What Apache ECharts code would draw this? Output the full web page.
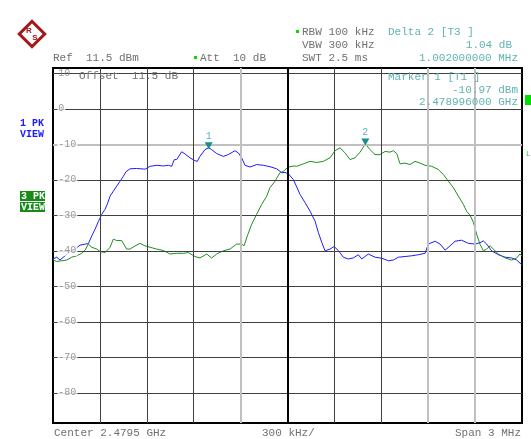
<!DOCTYPE html>
<html><head><meta charset="utf-8">
<script src="https://cdn.jsdelivr.net/npm/echarts@6/dist/echarts.min.js"></script>
<style>html,body{margin:0;padding:0;background:#fff}#c{width:531px;height:439px}</style>
</head><body><div id="c"></div>
<script>
// Frequency offsets in kHz from start (2.4780 GHz), span 3 MHz
const blueFreq = [0,24,45,77,109,141,173,205,226,248,269,290,312,333,347,365,386,407,429,450,467,493,535,589,621,663,706,738,759,776,791,823,844,876,908,923,940,972,996,1015,1047,1089,1121,1164,1185,1207,1228,1260,1303,1345,1388,1431,1463,1484,1505,1516,1537,1559,1580,1612,1644,1676,1697,1719,1740,1772,1798,1825,1857,1889,1921,1953,1975,2017,2060,2103,2145,2177,2209,2252,2295,2337,2380,2401,2444,2476,2508,2540,2572,2614,2657,2700,2732,2753,2774,2806,2849,2892,2934,2966,3000];
const blueLevel = [-42.3,-41.8,-42.6,-41.4,-40.2,-39.5,-38.4,-38.1,-38.0,-35.8,-33.9,-31.8,-29.7,-28.3,-26.9,-24.6,-23.2,-21.8,-20.4,-19.0,-17.7,-16.9,-16.8,-17.0,-16.2,-15.9,-16.1,-15.9,-16.2,-14.3,-14.3,-12.1,-12.7,-13.8,-14.6,-14.8,-13.4,-11.5,-10.97,-11.5,-12.6,-13.4,-12.9,-11.8,-12.4,-13.8,-15.9,-16.4,-15.7,-15.9,-16.3,-16.9,-18.0,-17.9,-18.3,-18.7,-19.9,-22.0,-24.1,-26.4,-28.8,-31.6,-34.8,-37.6,-40.0,-39.5,-38.8,-39.9,-41.8,-42.3,-42.0,-41.1,-42.3,-40.9,-41.8,-42.1,-42.8,-42.6,-41.8,-41.6,-41.4,-41.1,-40.7,-38.1,-37.3,-38.1,-39.8,-38.6,-37.3,-37.0,-37.9,-38.1,-37.7,-37.2,-38.1,-40.0,-41.1,-41.8,-42.0,-42.6,-44.0];
const greenFreq = [0,24,56,88,120,152,184,205,226,248,280,301,333,365,386,407,439,471,493,525,557,589,621,663,706,748,791,834,866,908,940,983,1015,1047,1089,1132,1175,1207,1222,1243,1271,1303,1335,1367,1388,1420,1452,1473,1505,1542,1559,1601,1644,1687,1729,1772,1804,1836,1868,1900,1932,1964,1998,2028,2060,2092,2124,2156,2177,2199,2220,2252,2284,2316,2348,2380,2423,2465,2497,2529,2561,2593,2625,2646,2668,2689,2710,2731,2753,2774,2796,2817,2849,2892,2934,2966,2987,3000];
const greenLevel = [-42.6,-43.0,-42.8,-42.6,-41.8,-41.4,-40.7,-39.8,-38.1,-39.0,-39.5,-40.2,-40.5,-39.0,-36.7,-37.1,-37.1,-39.5,-39.5,-38.6,-37.9,-38.6,-39.0,-39.5,-39.9,-40.9,-40.7,-40.7,-40.5,-41.6,-42.0,-40.9,-42.0,-40.9,-40.0,-39.5,-38.1,-38.1,-38.6,-35.8,-32.5,-29.7,-26.9,-24.6,-22.2,-20.4,-18.0,-17.6,-16.4,-16.1,-16.2,-15.5,-14.8,-15.1,-14.8,-13.8,-11.8,-11.0,-12.4,-14.3,-13.8,-12.2,-9.93,-11.5,-12.9,-12.9,-12.0,-12.2,-11.8,-12.6,-15.5,-15.3,-15.7,-14.8,-15.3,-15.9,-16.2,-17.1,-18.5,-20.4,-22.2,-24.6,-26.9,-28.9,-30.0,-32.0,-35.3,-38.1,-40.0,-39.5,-38.6,-39.5,-40.9,-42.0,-42.6,-42.0,-40.9,-41.5];
const gridLevels = [10,0,-10,-20,-30,-40,-50,-60,-70,-80];
const grayLevels = [-10];
const freqLines = [300,600,900,1200,1500,1800,2100,2400,2700];
const grayFreqLines = [1200,2400,2700];
const centerLine = [1500];
const marker1 = {freq: 996, level: -10.97};
const marker2 = {freq: 1998, level: -9.93};
const refLevel = 11.5, bottomLevel = -88.5;

const mono = '"Liberation Mono","DejaVu Sans Mono",monospace';
const gray = '#707070', teal = '#5fb3b3';

const chart = echarts.init(document.getElementById('c'), null, {renderer:'canvas'});

const hLines = gridLevels.map(v => ({yAxis: v, lineStyle: grayLevels.includes(v) ? {color:'#c0c0c0', width:2, type:'solid'} : {color:'#404040', width:1, type:'solid'}}));
const vLines = freqLines.map(v => ({xAxis: v, lineStyle: centerLine.includes(v) ? {color:'#000', width:2, type:'solid'} : grayFreqLines.includes(v) ? {color:'#c0c0c0', width:2, type:'solid'} : {color:'#404040', width:1, type:'solid'}}));

const labelData = gridLevels.map(v => ({
  value: [15, v],
  label: {backgroundColor: v === 10 ? 'transparent' : '#fff', formatter: String(v)}
}));

function txt(x, y, s, opt) {
  return {type:'text', x, y, z: 100, style: Object.assign({text:s, font:'11px ' + mono, fill: gray, textVerticalAlign:'middle'}, opt||{})};
}

const option = {
  animation: false,
  backgroundColor: '#fff',
  grid: {left: 53, right: 9, top: 68, bottom: 16, show: true, borderColor: '#000', borderWidth: 2, backgroundColor:'transparent'},
  xAxis: {type:'value', min: 0, max: 3000, interval: 300, axisLine:{show:false}, axisTick:{show:false}, axisLabel:{show:false}, splitLine:{show:false}},
  yAxis: {type:'value', min: bottomLevel, max: refLevel, axisLine:{show:false}, axisTick:{show:false}, axisLabel:{show:false}, splitLine:{show:false}},
  series: [
    {type:'line', name:'grid', data: [], silent: true, z: 1,
      markLine: {silent:true, symbol:['none','none'], label:{show:false}, data: hLines.concat(vLines)}},
    {type:'scatter', name:'ticks', data: labelData, symbolSize: 0, silent: true, z: 10,
      label: {show:true, position:'right', distance: 2, color:'#808080', fontFamily: mono, fontSize: 10, padding:[0,1]}},
    {type:'line', name:'Trace 1', data: blueFreq.map((f,i)=>[f, blueLevel[i]]), symbol:'none', lineStyle:{color:'#1c1cff', width:1}, z: 3,
      markPoint: {symbol:'triangle', symbolRotate:180, symbolSize:[8,7], symbolOffset:[0,-2], itemStyle:{color:'#168f8f'},
        label:{show:true, position:'top', distance:1, color: teal, fontFamily: mono, fontSize: 10, formatter:'1'},
        data:[{coord:[marker1.freq, marker1.level]}]}},
    {type:'line', name:'Trace 3', data: greenFreq.map((f,i)=>[f, greenLevel[i]]), symbol:'none', lineStyle:{color:'#1f8f1f', width:1}, z: 4,
      markPoint: {symbol:'triangle', symbolRotate:180, symbolSize:[8,7], symbolOffset:[0,-2], itemStyle:{color:'#168f8f'},
        label:{show:true, position:'top', distance:1, color: teal, fontFamily: mono, fontSize: 10, formatter:'2'},
        data:[{coord:[marker2.freq, marker2.level]}]}}
  ],
  graphic: [
    // R&S logo
    {type:'group', x: 32, y: 34, children: [
      {type:'rect', rotation: Math.PI/4, shape:{x:-9, y:-9, width:18, height:18}, style:{fill:'#fff', stroke:'#a51818', lineWidth:3}},
      {type:'text', x:-3, y:-3, style:{text:'R', font:'bold 8px sans-serif', fill:'#a51818', textAlign:'center', textVerticalAlign:'middle'}},
      {type:'text', x:3, y:4, style:{text:'S', font:'bold 8px sans-serif', fill:'#a51818', textAlign:'center', textVerticalAlign:'middle'}}
    ]},
    txt(53, 58, 'Ref  11.5 dBm'),
    {type:'rect', shape:{x:194, y:56, width:3, height:3}, style:{fill:'#00e000'}},
    txt(200, 58, 'Att  10 dB'),
    {type:'rect', shape:{x:296, y:30, width:3, height:3}, style:{fill:'#00e000'}},
    txt(302, 32, 'RBW 100 kHz'),
    txt(302, 45, 'VBW 300 kHz'),
    txt(302, 58, 'SWT 2.5 ms'),
    txt(388, 32, 'Delta 2 [T3 ]', {fill: teal}),
    txt(512, 45, '1.04 dB', {fill: teal, textAlign:'right'}),
    txt(518, 58, '1.002000000 MHz', {fill: teal, textAlign:'right'}),
    txt(388, 77, 'Marker 1 [T1 ]', {fill: teal}),
    txt(518, 90, '-10.97 dBm', {fill: teal, textAlign:'right'}),
    txt(518, 102, '2.478996000 GHz', {fill: teal, textAlign:'right'}),
    txt(79, 76, 'Offset  11.5 dB'),
    txt(20, 123, '1 PK', {fill:'#1c1cff', font:'bold 10px ' + mono}),
    txt(20, 134, 'VIEW', {fill:'#1c1cff', font:'bold 10px ' + mono}),
    {type:'rect', shape:{x:20, y:191, width:25, height:10}, style:{fill:'#168c16'}},
    {type:'rect', shape:{x:20, y:202, width:25, height:10}, style:{fill:'#168c16'}},
    txt(21, 196, '3 PK', {fill:'#fff', font:'bold 10px ' + mono}),
    txt(21, 207, 'VIEW', {fill:'#fff', font:'bold 10px ' + mono}),
    {type:'rect', shape:{x:525, y:95, width:6, height:10}, style:{fill:'#00e000'}},
    txt(526, 154, 'L', {fill:'#00d000', font:'7px ' + mono}),
    txt(54, 433, 'Center 2.4795 GHz'),
    txt(262, 433, '300 kHz/'),
    txt(521, 433, 'Span 3 MHz', {textAlign:'right'})
  ]
};
chart.setOption(option);
</script>
</body></html>
